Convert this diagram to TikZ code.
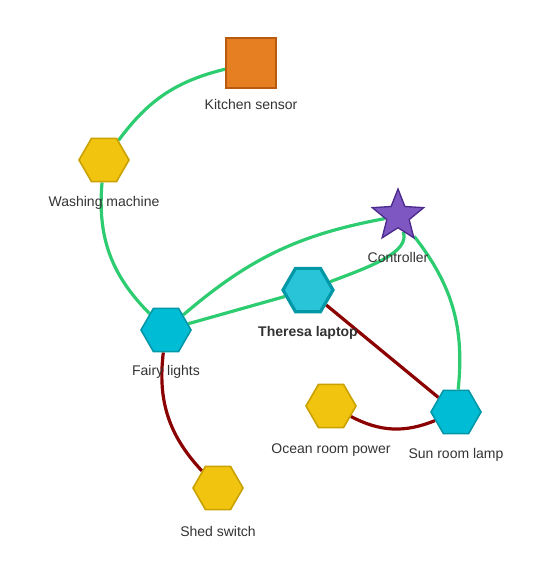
\documentclass[tikz,border=0pt]{standalone}
\usepackage{fontspec}
\setmainfont{Liberation Sans}
\usepackage{xcolor}
\usetikzlibrary{shapes.geometric,backgrounds}

\definecolor{linkgreen}{HTML}{2ECC71}
\definecolor{linkred}{HTML}{8B0000}
\definecolor{hexyellow}{HTML}{F1C40F}
\definecolor{hexyellowb}{HTML}{C9A100}
\definecolor{hexcyan}{HTML}{00BCD4}
\definecolor{hexcyanb}{HTML}{0097A7}
\definecolor{laptopfill}{HTML}{29C4D8}
\definecolor{sensorfill}{HTML}{E67E22}
\definecolor{sensorb}{HTML}{B85A10}
\definecolor{ctrlfill}{HTML}{7E57C2}
\definecolor{ctrlb}{HTML}{4B2A8C}
\definecolor{txt}{HTML}{333333}

\tikzset{
  hexnode/.style={regular polygon, regular polygon sides=6, minimum size=37.5pt,
    inner sep=0pt, draw, line width=1.2pt},
  yellowhex/.style={hexnode, fill=hexyellow, draw=hexyellowb},
  cyanhex/.style={hexnode, fill=hexcyan, draw=hexcyanb},
  lbl/.style={text=txt, font=\fontsize{10.5}{12}\selectfont, inner sep=0pt},
  wifi/.style={draw=linkgreen, line width=2.4pt},
  wired/.style={draw=linkred, line width=2.4pt}
}

\begin{document}
\begin{tikzpicture}[x=0.75pt, y=-0.75pt]
    \useasboundingbox (0,0) rectangle (543,571);

    % devices
    \node[draw=sensorb, fill=sensorfill, line width=1.2pt, minimum size=37.5pt, inner sep=0pt] (ks) at (251,63) {};
    \node[yellowhex] (wm) at (104,160) {};
    \node[star, star points=5, star point ratio=2.3, minimum size=40.5pt, inner sep=0pt,
          fill=ctrlfill, draw=ctrlb, line width=1pt] (ctrl) at (398,216) {};
    \node[hexnode, fill=laptopfill, draw=hexcyanb, line width=2.4pt] (tl) at (308,290) {};
    \node[cyanhex] (fl) at (166,330) {};
    \node[yellowhex] (orp) at (331,406) {};
    \node[cyanhex] (srl) at (456,412) {};
    \node[yellowhex] (ss) at (218,488) {};

    % labels
    \node[lbl] (ks-l) at (251,104) {Kitchen sensor};
    \node[lbl] (wm-l) at (104,203) {Washing machine};
    \node[lbl] (ctrl-l) at (398,257) {Controller};
    \node[lbl, font=\fontsize{10.5}{12}\selectfont\bfseries] (tl-l) at (308,333) {Theresa laptop};
    \node[lbl] (fl-l) at (166,372) {Fairy lights};
    \node[lbl] (orp-l) at (331,450) {Ocean room power};
    \node[lbl] (srl-l) at (456,455) {Sun room lamp};
    \node[lbl] (ss-l) at (218,531) {Shed switch};

    % links
    \begin{pgfonlayer}{background}
    \draw[wifi] (ks) to[bend right=20] (wm);
    \draw[wifi] (wm) to[bend right=25] (fl);
    \draw[wifi] (fl) to[bend left=15] (ctrl);
    \draw[wifi] (fl) -- (tl);
    \draw[wifi] (tl) .. controls (372,266) and (410,252) .. (ctrl);
    \draw[wifi] (ctrl) to[bend left=22] (srl);
    \foreach \from/\to/\b in
    {orp/srl/25,fl/ss/25}
    \draw[wired] (\from) to[bend right=\b] (\to);
    \draw[wired] (tl) -- (srl);
    \end{pgfonlayer}
\end{tikzpicture}
\end{document}
